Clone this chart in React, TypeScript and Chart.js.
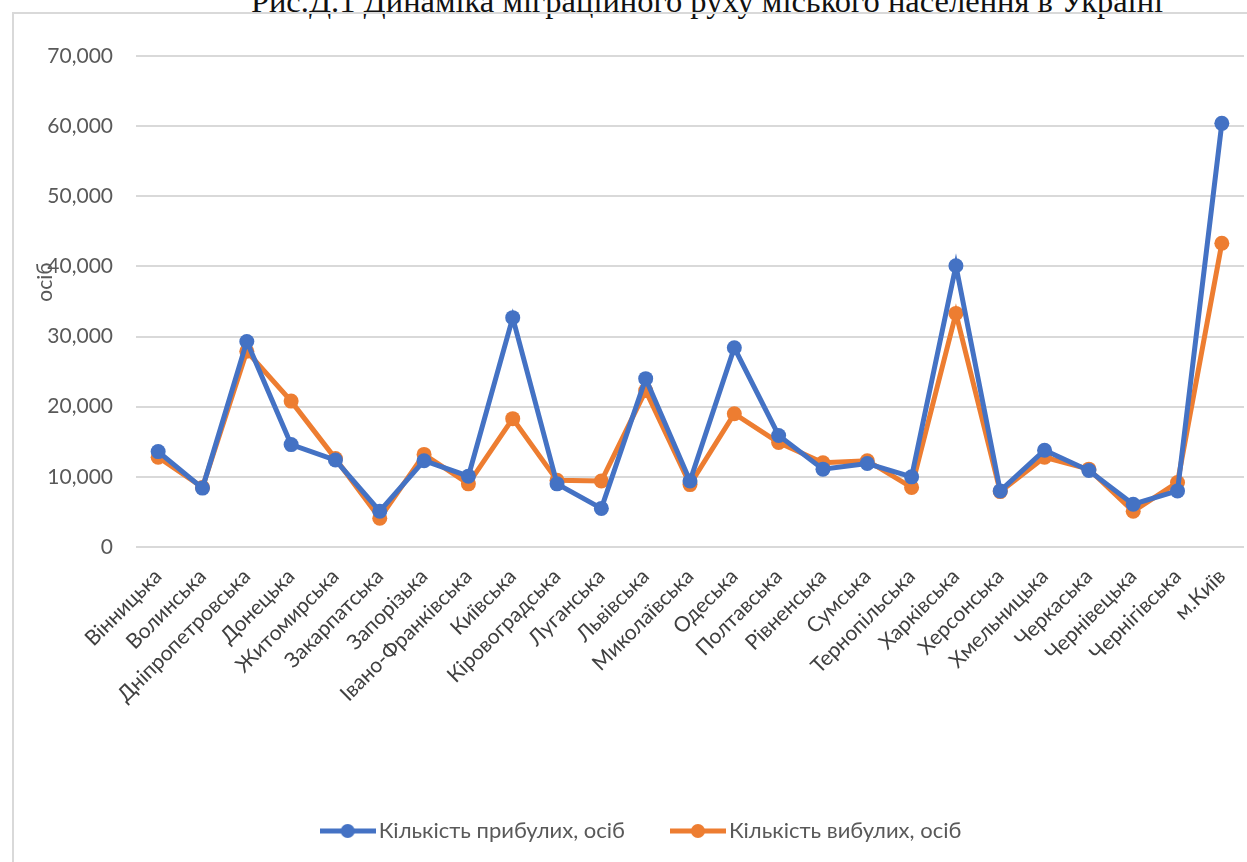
import React, { useEffect, useRef } from "react";
import { Chart, registerables } from "chart.js";

Chart.register(...registerables);

const categories = [
  "Вінницька", "Волинська", "Дніпропетровська", "Донецька", "Житомирська",
  "Закарпатська", "Запорізька", "Івано-Франківська", "Київська", "Кіровоградська",
  "Луганська", "Львівська", "Миколаївська", "Одеська", "Полтавська",
  "Рівненська", "Сумська", "Тернопільська", "Харківська", "Херсонська",
  "Хмельницька", "Черкаська", "Чернівецька", "Чернігівська", "м.Київ",
];

const arrivals = [
  13600, 8400, 29300, 14600, 12400, 5100, 12300, 10100, 32700, 9000,
  5500, 24000, 9400, 28400, 15900, 11100, 11900, 10000, 40100, 8000,
  13800, 10900, 6100, 8000, 60400,
];

const departures = [
  12800, 8500, 27900, 20800, 12600, 4100, 13200, 9000, 18300, 9500,
  9400, 22300, 8900, 19000, 14900, 12000, 12300, 8500, 33300, 7900,
  12800, 11100, 5100, 9200, 43300,
];

const yTickValues = [0, 10000, 20000, 30000, 40000, 50000, 60000, 70000];

const seriesLabels = ["Кількість прибулих, осіб", "Кількість вибулих, осіб"];
const titleText = "Рис.Д.1 Динаміка міграційного руху міського населення в Україні";
const yAxisTitle = "осіб";

const BLUE = "#4472C4";
const ORANGE = "#ED7D31";
const GRID = "#d9d9d9";
const FONT = "Lato, 'Open Sans', sans-serif";

function legendIcon(color: string): HTMLCanvasElement {
  const c = document.createElement("canvas");
  c.width = 56;
  c.height = 16;
  const ctx = c.getContext("2d")!;
  ctx.strokeStyle = color;
  ctx.lineWidth = 5;
  ctx.beginPath();
  ctx.moveTo(0, 8);
  ctx.lineTo(56, 8);
  ctx.stroke();
  ctx.fillStyle = color;
  ctx.beginPath();
  ctx.arc(28, 8, 7, 0, Math.PI * 2);
  ctx.fill();
  return c;
}

const yTitlePlugin = {
  id: "yTitleCustom",
  afterDraw(chart: any) {
    const ctx = chart.ctx;
    ctx.save();
    ctx.translate(45, 282);
    ctx.rotate(-Math.PI / 2);
    ctx.font = `21px ${FONT}`;
    ctx.fillStyle = "#595959";
    ctx.textAlign = "center";
    ctx.textBaseline = "middle";
    ctx.fillText(yAxisTitle, 0, 0);
    ctx.restore();
  },
};

export default function App() {
  const ref = useRef<HTMLCanvasElement | null>(null);

  useEffect(() => {
    if (!ref.current) return;
    const icons = [legendIcon(BLUE), legendIcon(ORANGE)];
    const colors = [BLUE, ORANGE];
    const chart = new Chart(ref.current, {
      type: "line",
      data: {
        labels: categories,
        datasets: [
          {
            label: seriesLabels[0],
            data: arrivals,
            borderColor: BLUE,
            backgroundColor: BLUE,
            pointBackgroundColor: BLUE,
            pointBorderColor: BLUE,
            borderWidth: 5,
            pointRadius: 7.5,
            pointBorderWidth: 0,
            tension: 0,
            clip: false,
          },
          {
            label: seriesLabels[1],
            data: departures,
            borderColor: ORANGE,
            backgroundColor: ORANGE,
            pointBackgroundColor: ORANGE,
            pointBorderColor: ORANGE,
            borderWidth: 5,
            pointRadius: 7.5,
            pointBorderWidth: 0,
            tension: 0,
            clip: false,
          },
        ],
      },
      options: {
        animation: false,
        responsive: false,
        maintainAspectRatio: false,
        events: [],
        layout: { autoPadding: false, padding: { left: 45, right: 3, top: 56, bottom: 10 } },
        scales: {
          x: {
            offset: true,
            grid: { display: false, drawTicks: false },
            border: { display: false },
            ticks: {
              autoSkip: false,
              minRotation: 45,
              maxRotation: 45,
              color: "#404040",
              font: { family: FONT, size: 21 },
              padding: 17,
            },
            afterFit: (s: any) => {
              s.height = 220;
              s.paddingLeft = 0;
              s.paddingRight = 0;
            },
          },
          y: {
            min: 0,
            max: 70000,
            afterBuildTicks: (s: any) => {
              s.ticks = yTickValues.map((v) => ({ value: v }));
            },
            ticks: {
              color: "#595959",
              font: { family: FONT, size: 21 },
              padding: 23,
              callback: (v: any) => Number(v).toLocaleString("en-US"),
            },
            grid: { color: GRID, lineWidth: 2, drawTicks: false },
            border: { display: false },
            afterFit: (s: any) => {
              s.width = 91;
            },
          },
        },
        plugins: {
          legend: {
            position: "bottom",
            labels: {
              usePointStyle: true,
              pointStyleWidth: 40,
              padding: 53,
              color: "#595959",
              font: { family: FONT, size: 22 },
              generateLabels: (ch: any) =>
                ch.data.datasets.map((ds: any, i: number) => ({
                  text: ds.label,
                  pointStyle: icons[i],
                  fillStyle: colors[i],
                  strokeStyle: colors[i],
                  fontColor: "#595959",
                  lineWidth: 0,
                  hidden: false,
                  datasetIndex: i,
                })),
            },
          },
          tooltip: { enabled: false },
          title: { display: false },
        },
      },
      plugins: [yTitlePlugin],
    } as any);
    return () => chart.destroy();
  }, []);

  return (
    <div
      style={{
        position: "fixed",
        left: 0,
        top: 0,
        width: 1247,
        height: 862,
        background: "#ffffff",
        overflow: "hidden",
      }}
    >
      <div
        style={{
          position: "absolute",
          left: 0,
          width: 1414,
          top: -15,
          textAlign: "center",
          fontFamily: "'Liberation Serif', 'Times New Roman', serif",
          fontSize: 32.5,
          lineHeight: "32px",
          color: "#111",
          whiteSpace: "nowrap",
        }}
      >
        {titleText}
      </div>
      <div
        style={{
          position: "absolute",
          left: 12,
          top: 12,
          right: 0,
          bottom: 0,
          borderLeft: `2px solid ${GRID}`,
          borderTop: `2px solid ${GRID}`,
        }}
      />
      <canvas
        ref={ref}
        width={1247}
        height={862}
        style={{ position: "absolute", left: 0, top: 0, width: 1247, height: 862 }}
      />
    </div>
  );
}
